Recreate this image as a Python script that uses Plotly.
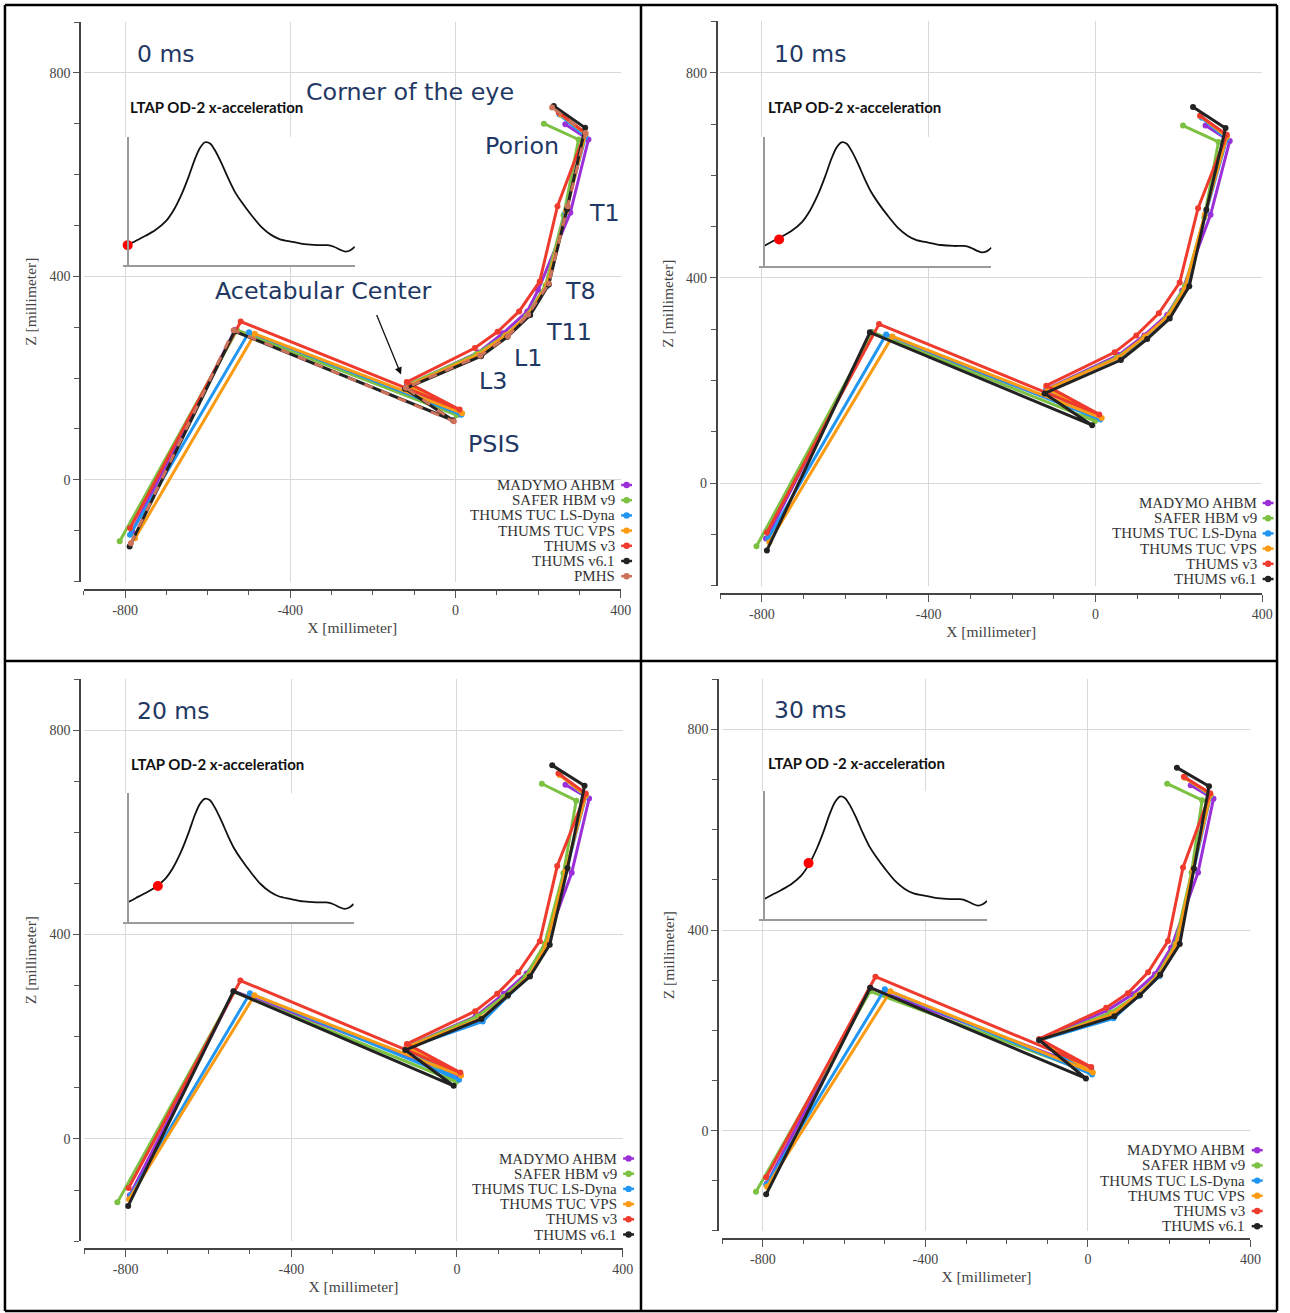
import plotly.graph_objects as go

W, H = 1290, 1313

# ---------------- data ----------------
SERIES = ["MADYMO AHBM", "SAFER HBM v9", "THUMS TUC LS-Dyna", "THUMS TUC VPS",
          "THUMS v3", "THUMS v6.1", "PMHS"]
COLORS = ["#9b30d9", "#7cc142", "#2196f3", "#fb9b14", "#ef3b2d", "#222222", "#cd725a"]
LANDMARKS = ["Knee", "Hip", "PSIS", "Acetabular Center", "L3", "L1", "T11", "T8",
             "T1", "Porion", "Corner of the eye"]
TIMES_MS = [0, 10, 20, 30]

# x / z coordinates [mm] of the landmarks, one list per model, per time step
X_0MS = {
    "MADYMO AHBM":       [-783, -533, 6, -118, 55, 115, 174, 200, 278, 322, 266],
    "SAFER HBM v9":      [-813, -529, 3, -115, 50, 118, 172, 218, 262, 298, 214],
    "THUMS TUC LS-Dyna": [-788, -500, 14, -118, 57, 121, 177, 222, 266, 315, 252],
    "THUMS TUC VPS":     [-776, -486, 16, -116, 56, 122, 178, 222, 268, 315, 255],
    "THUMS v3":          [-788, -520, 10, -118, 47, 102, 154, 204, 247, 314, 250],
    "THUMS v6.1":        [-789, -535, -6, -122, 62, 126, 181, 226, 270, 314, 238],
    "PMHS":              [-786, -537, -4, -120, 60, 127, 176, 226, 272, 315, 234],
}
Z_0MS = {
    "MADYMO AHBM":       [-101, 295, 131, 185, 250, 288, 331, 373, 525, 669, 699],
    "SAFER HBM v9":      [-121, 294, 127, 187, 247, 282, 322, 382, 520, 669, 700],
    "THUMS TUC LS-Dyna": [-108, 290, 128, 183, 245, 283, 323, 381, 525, 675, 718],
    "THUMS TUC VPS":     [-115, 287, 131, 184, 246, 284, 326, 384, 528, 680, 718],
    "THUMS v3":          [-95, 311, 138, 192, 259, 291, 331, 390, 538, 682, 722],
    "THUMS v6.1":        [-131, 292, 117, 179, 243, 281, 324, 384, 532, 692, 735],
    "PMHS":              [-125, 294, 115, 181, 244, 282, 325, 386, 538, 682, 732],
}
X_10MS = {
    "MADYMO AHBM":       [-790, -536, 4, -118, 56, 117, 172, 208, 276, 322, 264],
    "SAFER HBM v9":      [-813, -534, -1, -115, 51, 114, 168, 215, 261, 295, 210],
    "THUMS TUC LS-Dyna": [-785, -502, 12, -118, 59, 121, 177, 218, 264, 315, 255],
    "THUMS TUC VPS":     [-782, -487, 15, -115, 56, 119, 176, 214, 262, 315, 251],
    "THUMS v3":          [-788, -519, 9, -118, 46, 98, 152, 202, 246, 315, 251],
    "THUMS v6.1":        [-788, -541, -8, -122, 61, 124, 178, 225, 266, 312, 234],
}
Z_10MS = {
    "MADYMO AHBM":       [-108, 294, 130, 183, 250, 288, 328, 375, 523, 667, 697],
    "SAFER HBM v9":      [-123, 294, 121, 183, 245, 281, 320, 385, 518, 665, 697],
    "THUMS TUC LS-Dyna": [-108, 290, 124, 181, 246, 284, 324, 380, 525, 671, 712],
    "THUMS TUC VPS":     [-115, 286, 127, 183, 245, 286, 327, 378, 523, 675, 716],
    "THUMS v3":          [-96, 310, 134, 190, 255, 288, 331, 391, 536, 679, 716],
    "THUMS v6.1":        [-131, 294, 113, 175, 240, 281, 321, 384, 533, 692, 733],
}
X_20MS = {
    "MADYMO AHBM":       [-790, -538, 5, -122, 45, 113, 168, 210, 277, 319, 262],
    "SAFER HBM v9":      [-820, -538, -2, -120, 50, 112, 166, 212, 257, 288, 205],
    "THUMS TUC LS-Dyna": [-788, -500, 5, -122, 62, 122, 176, 220, 264, 311, 250],
    "THUMS TUC VPS":     [-792, -489, 10, -121, 58, 121, 175, 216, 262, 311, 248],
    "THUMS v3":          [-793, -523, 8, -121, 44, 97, 148, 200, 242, 311, 245],
    "THUMS v6.1":        [-794, -540, -8, -125, 59, 123, 176, 224, 267, 308, 230],
}
Z_20MS = {
    "MADYMO AHBM":       [-110, 289, 124, 180, 240, 284, 324, 372, 521, 666, 693],
    "SAFER HBM v9":      [-124, 288, 112, 180, 240, 278, 318, 382, 520, 662, 695],
    "THUMS TUC LS-Dyna": [-110, 285, 116, 178, 230, 279, 319, 380, 527, 670, 712],
    "THUMS TUC VPS":     [-118, 281, 124, 180, 236, 280, 320, 380, 525, 672, 712],
    "THUMS v3":          [-96, 310, 130, 186, 250, 284, 326, 387, 534, 676, 715],
    "THUMS v6.1":        [-131, 289, 104, 174, 235, 281, 318, 380, 530, 691, 731],
}
X_30MS = {
    "MADYMO AHBM":       [-790, -536, 8, -120, 48, 110, 165, 205, 271, 309, 253],
    "SAFER HBM v9":      [-817, -536, 5, -118, 55, 118, 170, 215, 255, 281, 195],
    "THUMS TUC LS-Dyna": [-792, -500, 10, -120, 63, 124, 176, 222, 260, 302, 240],
    "THUMS TUC VPS":     [-790, -486, 12, -118, 60, 122, 174, 218, 258, 302, 238],
    "THUMS v3":          [-792, -523, 8, -120, 45, 98, 148, 197, 234, 301, 236],
    "THUMS v6.1":        [-792, -536, -5, -120, 65, 128, 178, 226, 261, 298, 219],
}
Z_30MS = {
    "MADYMO AHBM":       [-105, 285, 122, 181, 240, 272, 312, 365, 515, 662, 689],
    "SAFER HBM v9":      [-122, 278, 116, 180, 235, 268, 308, 372, 515, 659, 692],
    "THUMS TUC LS-Dyna": [-108, 282, 112, 180, 224, 268, 308, 372, 520, 668, 704],
    "THUMS TUC VPS":     [-112, 278, 116, 181, 232, 270, 310, 372, 520, 670, 704],
    "THUMS v3":          [-93, 307, 127, 183, 245, 274, 316, 378, 525, 673, 706],
    "THUMS v6.1":        [-127, 285, 104, 181, 228, 270, 311, 372, 523, 687, 724],
}
X_ALL = [X_0MS, X_10MS, X_20MS, X_30MS]
Z_ALL = [Z_0MS, Z_10MS, Z_20MS, Z_30MS]

# LTAP OD-2 x-acceleration pulse (inset)
PULSE_T = [0, 5.2, 11.8, 18.3, 24.9, 30.3, 35.8, 40.2, 44.5, 47.8, 51.1, 54.4, 57.6,
           62, 66.4, 70.7, 75.1, 81.6, 88.2, 94.7, 100.2, 107.8, 116.6, 125.3, 131.9,
           136.2, 140.6, 143.9, 147.1, 150]
PULSE_A = [6.2, 7.5, 9.1, 10.9, 13.5, 17.1, 22.3, 27.5, 33.2, 36.6, 38.3, 37.9, 35.8,
           31.7, 27.0, 22.9, 19.7, 15.6, 11.9, 9.4, 8.1, 7.3, 6.5, 6.2, 6.2,
           5.7, 4.7, 4.2, 4.6, 5.7]
PULSE_DOT_A = [6.2, 8.2, 11.3, 17.5]

X_TICKS = [-800, -400, 0, 400]
Z_TICKS = [0, 400, 800]

# ---------------- layout helpers ----------------
def px(x):
    return x / W

def py(y):
    return 1 - y / H

PANELS = [
    dict(xl=84.5, xr=626.0, yt=22.0, yb=581.5, yline=81.0, xline=590.0,
         il=128.8, ir=357.9, it=136.8, ib=265.0, tx=129.6, ty=107.3,
         lx=135.7, ly=54.0, leg_y=485.0, leg_r=622.7, leg_s=632.0,
         inset_title="LTAP OD-2 x-acceleration"),
    dict(xl=726.4, xr=1273.1, yt=21.4, yb=585.8, yline=723.0, xline=594.0,
         il=770.5, ir=1000.0, it=136.8, ib=266.0, tx=772.5, ty=107.3,
         lx=778.7, ly=54.0, leg_y=503.0, leg_r=1269.4, leg_s=1279.0,
         inset_title="LTAP OD-2 x-acceleration"),
    dict(xl=85.0, xr=628.0, yt=679.0, yb=1241.2, yline=81.0, xline=1249.0,
         il=128.8, ir=356.7, it=793.3, ib=922.4, tx=130.0, ty=764.0,
         lx=135.7, ly=710.8, leg_y=1158.5, leg_r=624.4, leg_s=634.0,
         inset_title="LTAP OD-2 x-acceleration"),
    dict(xl=728.5, xr=1261.2, yt=679.4, yb=1230.9, yline=724.4, xline=1239.0,
         il=770.5, ir=995.5, it=791.2, ib=919.0, tx=772.5, ty=762.5,
         lx=778.7, ly=710.0, leg_y=1150.2, leg_r=1258.0, leg_s=1268.0,
         inset_title="LTAP OD -2 x-acceleration"),
]
LEG_STEP = 15.2

AX_FONT = dict(family="Liberation Serif", size=14, color="#444")
TITLE_FONT = dict(family="Liberation Serif", size=15.5, color="#444")
NAVY = "#1f3864"

fig = go.Figure()
layout = dict(width=W, height=H, autosize=False, margin=dict(l=0, r=0, t=0, b=0),
              paper_bgcolor="white", plot_bgcolor="white", showlegend=False)
annotations = []
shapes = []

for i, p in enumerate(PANELS):
    n = i + 1
    xa_name = "xaxis" if n == 1 else f"xaxis{n}"
    ya_name = "yaxis" if n == 1 else f"yaxis{n}"
    xref = "x" if n == 1 else f"x{n}"
    yref = "y" if n == 1 else f"y{n}"
    layout[xa_name] = dict(
        domain=[px(p["xl"]), px(p["xr"])], range=[-900, 400],
        anchor="free", position=py(p["xline"]),
        tickvals=X_TICKS, ticktext=[str(v) for v in X_TICKS],
        ticks="outside", ticklen=7, tickcolor="#555",
        showline=True, linecolor="#444", linewidth=2,
        showgrid=True, gridcolor="#d8d8d8", gridwidth=1, zeroline=False,
        minor=dict(dtick=100, tick0=0, ticks="outside", ticklen=4,
                   tickcolor="#555", showgrid=False),
        tickfont=AX_FONT,
        title=dict(text="X [millimeter]", font=TITLE_FONT, standoff=4),
    )
    layout[ya_name] = dict(
        domain=[py(p["yb"]), py(p["yt"])], range=[-200, 900],
        anchor="free", position=px(p["yline"]),
        tickvals=Z_TICKS, ticktext=[str(v) for v in Z_TICKS],
        ticks="outside", ticklen=6, tickcolor="#555",
        showline=True, linecolor="#444", linewidth=2,
        showgrid=True, gridcolor="#d8d8d8", gridwidth=1, zeroline=False,
        minor=dict(dtick=100, tick0=0, ticks="outside", ticklen=5,
                   tickcolor="#555", showgrid=False),
        tickfont=AX_FONT,
        title=dict(text="Z [millimeter]", font=TITLE_FONT, standoff=8),
    )

    xs, zs = X_ALL[i], Z_ALL[i]
    names = [s for s in SERIES if s in xs]
    for s in names:
        c = COLORS[SERIES.index(s)]
        is_pmhs = s == "PMHS"
        fig.add_trace(go.Scatter(
            x=xs[s], y=zs[s], xaxis=xref, yaxis=yref, name=s,
            mode="lines+markers",
            line=dict(color=c, width=3, dash="dash" if is_pmhs else "solid"),
            marker=dict(color=c, size=6),
            text=LANDMARKS, hoverinfo="text+x+y",
        ))

    # legend (text right-aligned, symbol on the right)
    for k, s in enumerate(names):
        c = COLORS[SERIES.index(s)]
        yy = p["leg_y"] + k * LEG_STEP
        annotations.append(dict(
            x=px(p["leg_r"]), y=py(yy), xref="paper", yref="paper",
            text=s, showarrow=False, xanchor="right", yanchor="middle",
            font=dict(family="Liberation Serif", size=15, color="#333")))
        shapes.append(dict(type="line", xref="paper", yref="paper",
                           x0=px(p["leg_s"] - 5.5), x1=px(p["leg_s"] + 5.5),
                           y0=py(yy), y1=py(yy), line=dict(color=c, width=2.5)))
        shapes.append(dict(type="circle", xref="paper", yref="paper",
                           x0=px(p["leg_s"] - 3.2), x1=px(p["leg_s"] + 3.2),
                           y0=py(yy - 3.2), y1=py(yy + 3.2),
                           fillcolor=c, line=dict(color=c, width=0)))

    # time label
    annotations.append(dict(
        x=px(p["lx"]), y=py(p["ly"]), xref="paper", yref="paper",
        text=f"{TIMES_MS[i]} ms", showarrow=False, xanchor="left", yanchor="middle",
        font=dict(family="DejaVu Sans", size=23.5, color=NAVY)))

    # inset: acceleration pulse
    m = n + 4
    ixa = f"xaxis{m}"
    iya = f"yaxis{m}"
    k_ms = (PULSE_T[-1] - PULSE_T[0]) / (p["ir"] - p["il"])
    left_px = p["il"] - 4.5
    layout[ixa] = dict(
        domain=[px(left_px), px(p["ir"])],
        range=[PULSE_T[0] - (p["il"] - left_px) * k_ms, PULSE_T[-1]],
        anchor=f"y{m}", showline=True, linecolor="#9a9a9a", linewidth=1.5,
        showticklabels=False, ticks="", showgrid=False, zeroline=False)
    layout[iya] = dict(
        domain=[py(p["ib"]), py(p["it"])], range=[0, 40],
        anchor="free", position=px(p["il"]),
        showline=True, linecolor="#9a9a9a", linewidth=1.5,
        showticklabels=False, ticks="", showgrid=False, zeroline=False)
    fig.add_trace(go.Scatter(
        x=PULSE_T, y=PULSE_A, xaxis=f"x{m}", yaxis=f"y{m}", mode="lines",
        line=dict(color="#111", width=1.8, shape="spline", smoothing=0.8),
        hoverinfo="skip", cliponaxis=False))
    fig.add_trace(go.Scatter(
        x=[TIMES_MS[i]], y=[PULSE_DOT_A[i]], xaxis=f"x{m}", yaxis=f"y{m}",
        mode="markers", marker=dict(color="#ff0000", size=10),
        cliponaxis=False, hoverinfo="x+y"))
    annotations.append(dict(
        x=px(p["tx"]), y=py(p["ty"]), xref="paper", yref="paper",
        text=f"<b>{p['inset_title']}</b>", showarrow=False,
        xanchor="left", yanchor="middle",
        font=dict(family="Lato", size=15, color="#111")))

# landmark labels in the 0 ms panel
LABEL_POS = [
    ("Corner of the eye", 414.0, 92.0),
    ("Porion", 526.5, 146.5),
    ("T1", 610.0, 212.5),
    ("T8", 585.0, 290.5),
    ("Acetabular Center", 326.5, 290.5),
    ("T11", 574.0, 332.5),
    ("L1", 533.0, 357.5),
    ("L3", 497.0, 381.0),
    ("PSIS", 498.0, 444.0),
]
for txt, lx, ly in LABEL_POS:
    annotations.append(dict(
        x=px(lx), y=py(ly), xref="paper", yref="paper", text=txt,
        showarrow=False, xanchor="center", yanchor="middle",
        font=dict(family="DejaVu Sans", size=23.8, color=NAVY)))
# arrow to the acetabular center
annotations.append(dict(
    x=px(404.5), y=py(374.5), xref="paper", yref="paper", text="",
    showarrow=True, arrowhead=2, arrowsize=1.1, arrowwidth=1.3, arrowcolor="#111",
    ax=-25, ay=-61))

# table frame
FRAME = dict(color="#000", width=2.5)
for x0, y0, x1, y1 in [(5, 5, 1288, 5), (5, 1311, 1288, 1311), (5, 5, 5, 1311),
                       (1288, 5, 1288, 1311), (646.5, 5, 646.5, 1311),
                       (5, 661, 1288, 661)]:
    shapes.append(dict(type="line", xref="paper", yref="paper",
                       x0=px(x0), y0=py(y0), x1=px(x1), y1=py(y1), line=FRAME))

layout["annotations"] = annotations
layout["shapes"] = shapes
fig.update_layout(**layout)
fig.write_html("out.html", config={"responsive": False})
